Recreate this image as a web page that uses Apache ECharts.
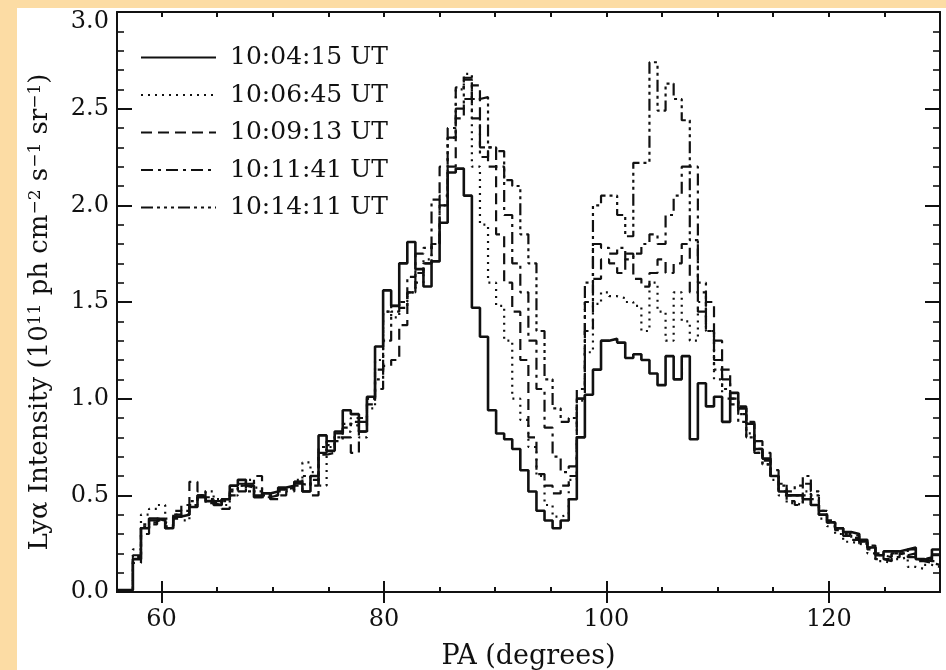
<!DOCTYPE html>
<html>
<head>
<meta charset="utf-8">
<title>Lyα intensity vs PA</title>
<script src="https://cdn.jsdelivr.net/npm/echarts@6/dist/echarts.min.js"></script>
<style>
  html, body { margin: 0; padding: 0; background: #fcdca4; }
  #chart { position: absolute; left: 17px; top: 8px; width: 929px; height: 662px; background: #fff; }
</style>
</head>
<body>
<div id="chart"></div>
<script>
// PA histogram bins (degrees): first bin edge and bin width
const paMin = 56
const paMax = 130
const binStart = 57.43
const binWidth = 0.7257
const baseLevel = 0.01 // flat part before the first bin

const timeLabels = ['10:04:15 UT', '10:06:45 UT', '10:09:13 UT', '10:11:41 UT', '10:14:11 UT']
const xMajorTicks = [60, 80, 100, 120]
const xMinorTicks = [60, 65, 70, 75, 80, 85, 90, 95, 100, 105, 110, 115, 120, 125, 130]

// Lyα intensity, one value per bin (10^11 ph cm^-2 s^-1 sr^-1)
const t1004 = [
  0.17, 0.33, 0.38, 0.37, 0.33, 0.39, 0.40, 0.44, 0.49, 0.47,
  0.45, 0.48, 0.55, 0.58, 0.55, 0.49, 0.51, 0.52, 0.54, 0.55,
  0.57, 0.52, 0.60, 0.81, 0.73, 0.83, 0.94, 0.92, 0.83, 1.01,
  1.27, 1.56, 1.48, 1.70, 1.81, 1.67, 1.58, 1.71, 1.91, 2.17,
  2.19, 2.05, 1.47, 1.32, 0.94, 0.82, 0.79, 0.74, 0.63, 0.52,
  0.42, 0.37, 0.33, 0.37, 0.48, 0.80, 1.02, 1.15, 1.30, 1.31,
  1.29, 1.21, 1.23, 1.20, 1.13, 1.07, 1.22, 1.10, 1.22, 0.79,
  1.08, 0.96, 1.01, 0.88, 1.03, 0.95, 0.87, 0.74, 0.69, 0.60,
  0.52, 0.50, 0.50, 0.48, 0.45, 0.40, 0.36, 0.33, 0.31, 0.30,
  0.27, 0.23, 0.19, 0.21, 0.21, 0.22, 0.23, 0.17, 0.16, 0.22
]
const t1006 = [
  0.22, 0.40, 0.43, 0.45, 0.38, 0.40, 0.37, 0.45, 0.50, 0.52,
  0.48, 0.45, 0.50, 0.55, 0.58, 0.54, 0.50, 0.50, 0.52, 0.53,
  0.58, 0.67, 0.62, 0.55, 0.75, 0.80, 0.83, 0.90, 0.80, 0.95,
  1.20, 1.45, 1.42, 1.50, 1.55, 1.60, 1.72, 1.80, 2.00, 2.35,
  2.60, 2.68, 2.20, 1.90, 1.60, 1.48, 1.30, 1.00, 0.89, 0.75,
  0.60, 0.45, 0.39, 0.40, 0.58, 0.99, 1.24, 1.49, 1.55, 1.53,
  1.52, 1.50, 1.48, 1.35, 1.60, 1.45, 1.30, 1.55, 1.40, 1.30,
  1.50, 1.35, 1.10, 1.00, 1.00, 0.92, 0.82, 0.72, 0.66, 0.58,
  0.50, 0.46, 0.45, 0.52, 0.48, 0.38, 0.34, 0.30, 0.26, 0.25,
  0.24, 0.20, 0.16, 0.15, 0.17, 0.18, 0.13, 0.12, 0.14, 0.13
]
const t1009 = [
  0.15, 0.30, 0.35, 0.37, 0.33, 0.42, 0.45, 0.57, 0.52, 0.49,
  0.47, 0.43, 0.50, 0.52, 0.56, 0.60, 0.50, 0.48, 0.50, 0.52,
  0.55, 0.52, 0.50, 0.71, 0.72, 0.78, 0.80, 0.72, 0.83, 0.97,
  1.05, 1.17, 1.20, 1.38, 1.55, 1.65, 1.70, 1.80, 2.20, 2.20,
  2.45, 2.55, 2.62, 2.30, 2.20, 1.85, 1.60, 1.45, 1.20, 0.80,
  0.61, 0.55, 0.51, 0.55, 0.60, 1.00, 1.35, 1.62, 1.72, 1.70,
  1.65, 1.75, 1.62, 1.58, 1.65, 1.72, 1.65, 1.70, 1.80, 1.55,
  1.45, 1.50, 1.30, 1.15, 1.00, 0.92, 0.80, 0.74, 0.68, 0.60,
  0.52, 0.47, 0.45, 0.50, 0.45, 0.40, 0.36, 0.32, 0.29, 0.27,
  0.25, 0.22, 0.17, 0.16, 0.18, 0.20, 0.18, 0.16, 0.15, 0.14
]
const t1011 = [
  0.19, 0.35, 0.37, 0.36, 0.35, 0.38, 0.40, 0.47, 0.50, 0.46,
  0.45, 0.47, 0.52, 0.56, 0.52, 0.50, 0.50, 0.51, 0.53, 0.54,
  0.56, 0.55, 0.58, 0.75, 0.78, 0.80, 0.85, 0.88, 0.90, 1.00,
  1.15, 1.45, 1.48, 1.50, 1.63, 1.75, 1.78, 2.03, 2.05, 2.40,
  2.61, 2.66, 2.45, 2.25, 2.30, 2.20, 1.95, 1.70, 1.55, 1.30,
  1.05, 0.85, 0.70, 0.62, 0.65, 1.05, 1.50, 1.80, 1.78, 1.75,
  1.78, 1.72, 1.75, 1.80, 1.85, 1.80, 1.95, 2.05, 2.20, 2.20,
  1.60, 1.35, 1.20, 1.10, 1.00, 0.96, 0.88, 0.78, 0.72, 0.63,
  0.56, 0.52, 0.55, 0.60, 0.52, 0.42, 0.37, 0.33, 0.30, 0.29,
  0.26, 0.24, 0.19, 0.18, 0.20, 0.19, 0.20, 0.17, 0.18, 0.16
]
const t1014 = [
  0.18, 0.34, 0.36, 0.38, 0.34, 0.40, 0.42, 0.45, 0.50, 0.48,
  0.46, 0.48, 0.53, 0.55, 0.54, 0.52, 0.49, 0.50, 0.53, 0.54,
  0.57, 0.60, 0.55, 0.72, 0.76, 0.82, 0.87, 0.86, 0.88, 1.00,
  1.10, 1.30, 1.45, 1.47, 1.55, 1.65, 1.70, 1.80, 2.00, 2.35,
  2.50, 2.65, 2.55, 2.56, 2.30, 2.28, 2.13, 2.10, 1.85, 1.70,
  1.35, 1.10, 0.95, 0.88, 0.90, 1.00, 1.60, 2.00, 2.05, 2.05,
  1.95, 1.84, 2.22, 2.22, 2.74, 2.49, 2.63, 2.55, 2.44, 1.82,
  1.55, 1.35, 1.15, 1.05, 0.97, 0.88, 0.80, 0.72, 0.66, 0.60,
  0.55, 0.50, 0.50, 0.56, 0.50, 0.42, 0.36, 0.33, 0.30, 0.28,
  0.26, 0.23, 0.20, 0.17, 0.20, 0.20, 0.22, 0.17, 0.17, 0.19
]

const allSeries = [t1004, t1006, t1009, t1011, t1014]
const dashes = ['solid', [2, 5], [11, 6], [12, 5, 3, 5], [12, 4, 3, 4, 3, 4, 3, 4]]
const widths = [2.6, 2.2, 2.2, 2.2, 2.2]

const fontFamily = 'DejaVu Serif'
const ink = '#111'

// histogram outline: each bin value is held from its left edge to the next edge
function toSteps(vals) {
  const pts = [[paMin, baseLevel]]
  vals.forEach((v, k) => {
    pts.push([+(binStart + k * binWidth).toFixed(3), v])
  })
  pts.push([paMax, vals[vals.length - 1]])
  return pts
}

const chart = echarts.init(document.getElementById('chart'))

const axisLine = { show: true, lineStyle: { color: ink, width: 2 } }

function xAxisDef(position, values, len, withLabels) {
  return {
    type: 'value',
    position: position,
    min: paMin,
    max: paMax,
    axisLine: axisLine,
    splitLine: { show: false },
    axisTick: {
      show: true,
      inside: true,
      length: len,
      customValues: values,
      lineStyle: { color: ink, width: 2 }
    },
    axisLabel: withLabels ? {
      show: true,
      customValues: xMajorTicks,
      margin: 16,
      fontFamily: fontFamily,
      fontSize: 24,
      color: ink
    } : { show: false }
  }
}

function yAxisDef(position, withLabels) {
  return {
    type: 'value',
    position: position,
    min: 0,
    max: 3,
    interval: 0.5,
    axisLine: axisLine,
    splitLine: { show: false },
    axisTick: { show: true, inside: true, length: 15, lineStyle: { color: ink, width: 2 } },
    minorTick: { show: true, splitNumber: 5, length: 7, lineStyle: { color: ink, width: 1.6 } },
    axisLabel: withLabels ? {
      show: true,
      margin: 8,
      fontFamily: fontFamily,
      fontSize: 24,
      color: ink,
      // the top label sits a little lower, inside the frame
      formatter: v => (v === 3 ? '{top|' + v.toFixed(1) + '}' : v.toFixed(1)),
      rich: {
        top: { fontFamily: fontFamily, fontSize: 24, color: ink, padding: [19, 0, 0, 0] }
      }
    } : { show: false }
  }
}

const xBottom = xAxisDef('bottom', xMajorTicks, 11, true)
xBottom.name = 'PA (degrees)'
xBottom.nameLocation = 'middle'
xBottom.nameGap = 51
xBottom.nameTextStyle = { fontFamily: fontFamily, fontSize: 27, color: ink }

const yLeft = yAxisDef('left', true)
yLeft.name = 'Lyα Intensity (10{sup|11} ph cm{sup|−2} s{sup|−1} sr{sup|−1})'
yLeft.nameLocation = 'middle'
yLeft.nameGap = 64
yLeft.nameTextStyle = {
  fontFamily: fontFamily,
  fontSize: 26,
  color: ink,
  padding: [0, 20, 0, 0],
  rich: {
    sup: { fontFamily: fontFamily, fontSize: 17, color: ink, verticalAlign: 'top', lineHeight: 17 }
  }
}

chart.setOption({
  animation: false,
  backgroundColor: '#fff',
  grid: { left: 100, right: 6, top: 4, bottom: 78, containLabel: false, outerBoundsMode: 'none' },
  legend: {
    orient: 'vertical',
    left: 123,
    top: 37,
    padding: 0,
    itemWidth: 75,
    itemHeight: 12,
    itemGap: 12.5,
    itemStyle: { opacity: 0 },
    textStyle: { fontFamily: fontFamily, fontSize: 25, color: ink, padding: [0, 0, 0, 9] },
    data: timeLabels
  },
  xAxis: [
    xBottom,
    xAxisDef('top', xMajorTicks, 11, false),
    xAxisDef('bottom', xMinorTicks, 5, false),
    xAxisDef('top', xMinorTicks, 5, false)
  ],
  yAxis: [yLeft, yAxisDef('right', false)],
  series: allSeries.map((vals, i) => ({
    name: timeLabels[i],
    type: 'line',
    step: 'end',
    symbol: 'none',
    xAxisIndex: 0,
    yAxisIndex: 0,
    data: toSteps(vals),
    lineStyle: { color: ink, width: widths[i], type: dashes[i] },
    itemStyle: { color: ink }
  }))
})
</script>
</body>
</html>
